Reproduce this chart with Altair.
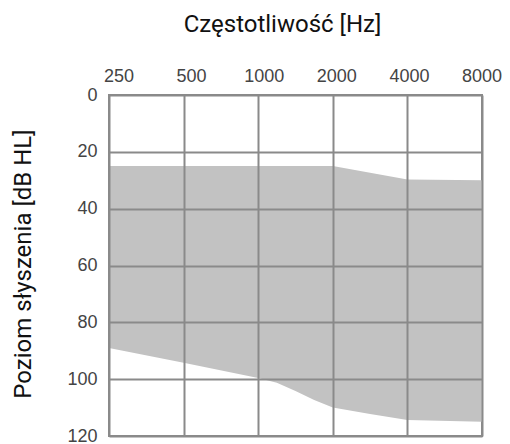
import altair as alt
import pandas as pd

tick_freqs = [250, 500, 1000, 2000, 4000, 8000]
freqs = [250, 500, 1000, 1189, 1414, 1682, 2000, 2828, 4000, 8000]
upper = [25, 25, 25, 25, 25, 25, 25, 27.4, 29.7, 30]
lower = [89, 94.2, 99.6, 101.3, 104.2, 107.3, 110, 112.3, 114.4, 115]
y_ticks = [0, 20, 40, 60, 80, 100, 120]

df = pd.DataFrame({"freq": freqs, "upper": upper, "lower": lower})

area = alt.Chart(df).mark_area(color="#c2c2c2", interpolate="linear", opacity=1).encode(
    x=alt.X("freq:Q",
            scale=alt.Scale(type="log", base=2, domain=[250, 8000], nice=False),
            axis=alt.Axis(orient="top", values=tick_freqs, format="d", grid=True,
                          gridColor="#8a8a8a", gridWidth=2, gridOpacity=1,
                          ticks=False, domain=False, labelPadding=10, labelFlush=False,
                          labelOffset=alt.ExprRef("9.5 - 2.0 * log(datum.value / 250) / LN2"),
                          labelFont="Liberation Sans", labelFontSize=18, labelColor="#444",
                          title="Częstotliwość [Hz]", titleFont="Roboto", titleFontSize=24,
                          titleFontWeight="normal", titleColor="#111",
                          titleX=173, titleY=-64, titleAlign="center",
                          titleBaseline="alphabetic", zindex=1)),
    y=alt.Y("upper:Q",
            scale=alt.Scale(domain=[0, 120], reverse=True, nice=False),
            axis=alt.Axis(orient="left", values=y_ticks, grid=True,
                          gridColor="#8a8a8a", gridWidth=2, gridOpacity=1,
                          ticks=False, domain=False, labelPadding=12,
                          labelFont="Liberation Sans", labelFontSize=18, labelColor="#444",
                          title="Poziom słyszenia [dB HL]", titleFont="Roboto", titleFontSize=24,
                          titleFontWeight="normal", titleColor="#111",
                          titleX=-78.5, titleY=168.5, titleAngle=270, titleAlign="center",
                          titleBaseline="alphabetic", zindex=1)),
    y2="lower:Q",
)

chart = area.properties(
    width=373, height=341,
    autosize=alt.AutoSizeParams(type="none"),
    padding={"left": 101, "top": 87, "right": 20, "bottom": 10},
).configure_view(stroke="#8a8a8a", strokeWidth=2)

chart.save("out.html", embed_options={"renderer": "svg", "actions": False})
